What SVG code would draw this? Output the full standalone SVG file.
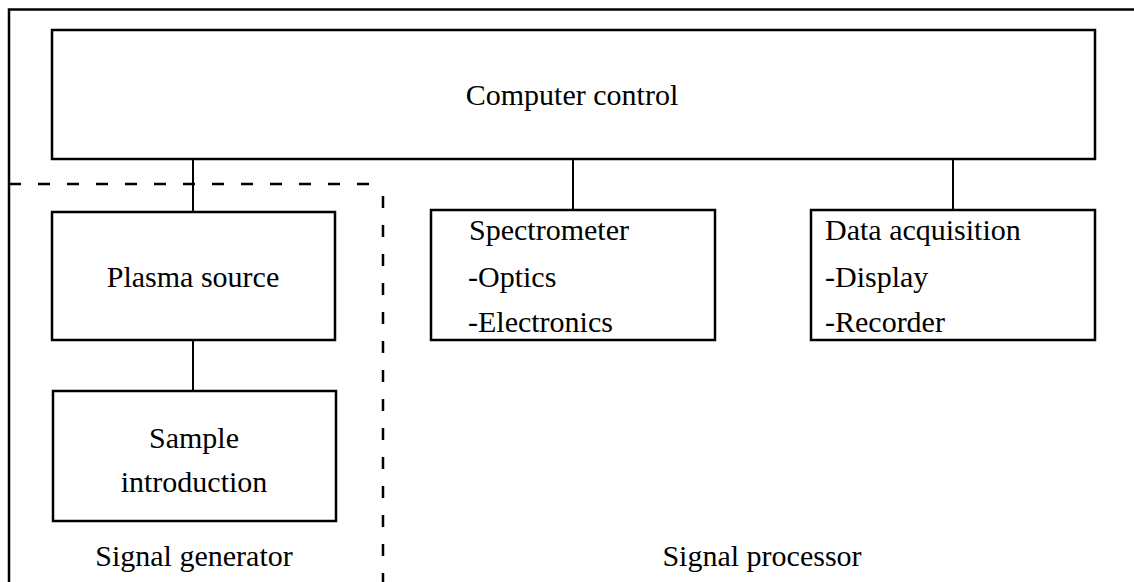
<svg xmlns="http://www.w3.org/2000/svg" width="1134" height="582" viewBox="0 0 1134 582">
<style>
.box{fill:#fff;stroke:#000;stroke-width:2.5}
.frame{fill:none;stroke:#000;stroke-width:2.5}
.con{stroke:#000;stroke-width:2;fill:none}
.dash{stroke:#000;stroke-width:2.5;fill:none;stroke-dasharray:12 17}
text{font-family:"Liberation Serif","Times New Roman",serif;font-size:30px;fill:#000}
.c{text-anchor:middle}
</style>
<rect width="1134" height="582" fill="#fff"/>
<g id="frame">
<path class="frame" d="M9,582 V9.5 H1134"/>
<path class="dash" d="M9,184 H383"/>
<path class="dash" d="M383,196 V582"/>
</g>
<g id="connectors">
<line class="con" x1="193" y1="160" x2="193" y2="212"/>
<line class="con" x1="193" y1="340" x2="193" y2="391"/>
<line class="con" x1="573" y1="160" x2="573" y2="210"/>
<line class="con" x1="953" y1="160" x2="953" y2="210"/>
</g>
<g id="computer-control">
<rect class="box" x="52" y="30" width="1043" height="129"/>
<text class="c" x="572" y="105">Computer control</text>
</g>
<g id="plasma-source">
<rect class="box" x="52" y="212" width="283" height="128"/>
<text class="c" x="193" y="287">Plasma source</text>
</g>
<g id="sample-introduction">
<rect class="box" x="53" y="391" width="283" height="130"/>
<text class="c" x="194" y="448">Sample</text>
<text class="c" x="194" y="492">introduction</text>
</g>
<g id="spectrometer">
<rect class="box" x="431" y="210" width="284" height="130"/>
<text x="469" y="240">Spectrometer</text>
<text x="468" y="287">-Optics</text>
<text x="468" y="332">-Electronics</text>
</g>
<g id="data-acquisition">
<rect class="box" x="811" y="210" width="284" height="130"/>
<text x="825" y="240">Data acquisition</text>
<text x="825" y="287">-Display</text>
<text x="825" y="332">-Recorder</text>
</g>
<g id="signal-generator">
<text class="c" x="194" y="566">Signal generator</text>
</g>
<g id="signal-processor">
<text class="c" x="762" y="566">Signal processor</text>
</g>
</svg>
